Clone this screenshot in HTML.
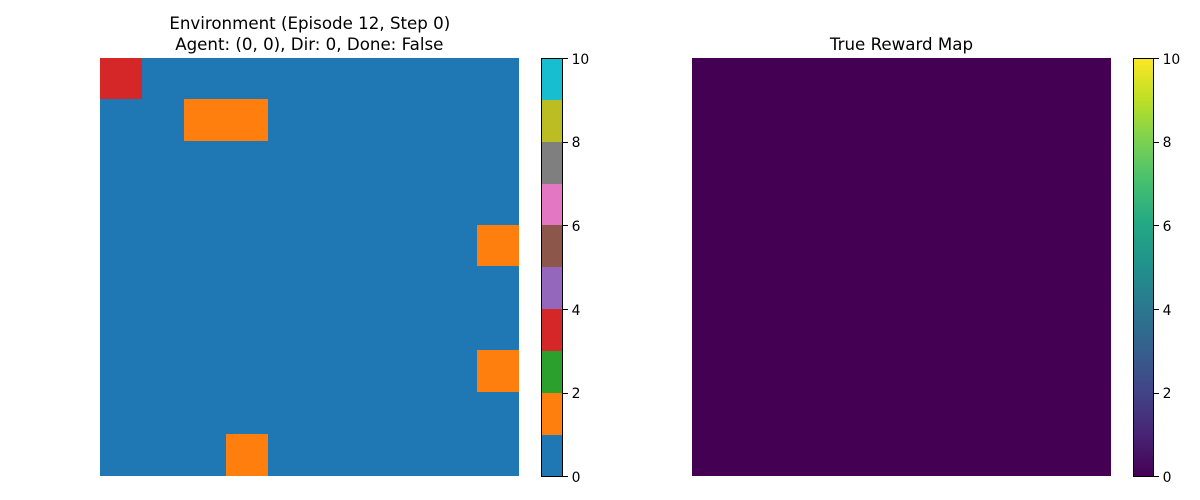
<!DOCTYPE html>
<html lang="en">
<head>
<meta charset="utf-8">
<title>Environment and True Reward Map</title>
<style>
html,body{margin:0;padding:0;background:#fff;width:1200px;height:500px;overflow:hidden}
svg{display:block}
text{font-family:"DejaVu Sans","Liberation Sans",sans-serif;fill:#000}
</style>
</head>
<body>
<svg id="chart" xmlns="http://www.w3.org/2000/svg" width="1200" height="500" viewBox="0 0 1200 500">
  <defs>
    <linearGradient id="viridis" x1="0" y1="1" x2="0" y2="0"></linearGradient>
  </defs>
  <rect width="1200" height="500" fill="#fff"/>
  <text x="309.8" y="29" font-size="16.67" text-anchor="middle">Environment (Episode 12, Step 0)</text>
  <text x="309.3" y="50" font-size="16.67" text-anchor="middle">Agent: (0, 0), Dir: 0, Done: False</text>
  <text x="901.5" y="50" font-size="16.67" text-anchor="middle">True Reward Map</text>
  <g id="env-heatmap"></g>
  <g id="reward-heatmap"></g>
  <g id="env-colorbar"></g>
  <g id="reward-colorbar"></g>
</svg>
<script>
const envGrid = [
  [3,0,0,0,0,0,0,0,0,0],
  [0,0,1,1,0,0,0,0,0,0],
  [0,0,0,0,0,0,0,0,0,0],
  [0,0,0,0,0,0,0,0,0,0],
  [0,0,0,0,0,0,0,0,0,1],
  [0,0,0,0,0,0,0,0,0,0],
  [0,0,0,0,0,0,0,0,0,0],
  [0,0,0,0,0,0,0,0,0,1],
  [0,0,0,0,0,0,0,0,0,0],
  [0,0,0,1,0,0,0,0,0,0]
];
const rewardGrid = [
  [0,0,0,0,0,0,0,0,0,0],
  [0,0,0,0,0,0,0,0,0,0],
  [0,0,0,0,0,0,0,0,0,0],
  [0,0,0,0,0,0,0,0,0,0],
  [0,0,0,0,0,0,0,0,0,0],
  [0,0,0,0,0,0,0,0,0,0],
  [0,0,0,0,0,0,0,0,0,0],
  [0,0,0,0,0,0,0,0,0,0],
  [0,0,0,0,0,0,0,0,0,0],
  [0,0,0,0,0,0,0,0,0,0]
];
const colorbarTicks = [0,2,4,6,8,10];
const tab10Colors = ["#1f77b4","#ff7f0e","#2ca02c","#d62728","#9467bd","#8c564b","#e377c2","#7f7f7f","#bcbd22","#17becf"];
const viridisColors = ["#440154","#482475","#414487","#355f8d","#2a788e","#21918c","#22a884","#44bf70","#7ad151","#bddf26","#fde725"];
const valueMin = 0;
const valueMax = 10;

const NS = "http://www.w3.org/2000/svg";
const heatTop = 57.49, heatBottom = 475.5, heatClipTop = 58;
const barTop = 58.5, barBottom = 476.9;

function hexToRgb(h){
  return [1,3,5].map(function(i){return parseInt(h.substr(i,2),16);});
}
function tab10(v){
  const t = (v - valueMin) / (valueMax - valueMin);
  const i = Math.min(tab10Colors.length - 1, Math.max(0, Math.floor(t * tab10Colors.length)));
  return tab10Colors[i];
}
function viridis(v){
  const t = Math.min(1, Math.max(0, (v - valueMin) / (valueMax - valueMin))) * (viridisColors.length - 1);
  const i = Math.min(viridisColors.length - 2, Math.floor(t));
  const a = hexToRgb(viridisColors[i]), b = hexToRgb(viridisColors[i + 1]);
  const f = t - i;
  return "rgb(" + a.map(function(c,k){return Math.round(c + (b[k] - c) * f);}).join(",") + ")";
}
function colorbarExactY(v){
  return barBottom - (v - valueMin) / (valueMax - valueMin) * (barBottom - barTop);
}
function colorbarY(v){
  return Math.floor(colorbarExactY(v));
}
function drawHeatmap(groupId, grid, left, right, colorFn){
  const g = document.getElementById(groupId);
  const rows = grid.length, cols = grid[0].length;
  const colX = function(c){return Math.round(left + c * (right - left) / cols);};
  const rowY = function(r){return Math.max(heatClipTop, Math.round(heatTop + r * (heatBottom - heatTop) / rows));};
  grid.forEach(function(row, r){
    row.forEach(function(val, c){
      const cell = document.createElementNS(NS, "rect");
      cell.setAttribute("x", colX(c));
      cell.setAttribute("y", rowY(r));
      cell.setAttribute("width", colX(c + 1) - colX(c));
      cell.setAttribute("height", rowY(r + 1) - rowY(r));
      cell.setAttribute("fill", colorFn(val));
      cell.setAttribute("shape-rendering", "crispEdges");
      
      
      g.appendChild(cell);
    });
  });
}
function drawColorbarFrame(g, left, right){
  const yTop = colorbarY(valueMax), yBottom = colorbarY(valueMin);
  const outline = document.createElementNS(NS, "rect");
  outline.setAttribute("x", left + 0.5);
  outline.setAttribute("y", yTop + 0.5);
  outline.setAttribute("width", right - left);
  outline.setAttribute("height", yBottom - yTop);
  outline.setAttribute("fill", "none");
  outline.setAttribute("stroke", "#000");
  outline.setAttribute("stroke-width", "1");
  outline.setAttribute("shape-rendering", "crispEdges");
  
  
  g.appendChild(outline);
  colorbarTicks.forEach(function(t){
    const y = colorbarY(t);
    const tick = document.createElementNS(NS, "line");
    tick.setAttribute("x1", right + 1);
    tick.setAttribute("x2", right + 6);
    tick.setAttribute("y1", y + 0.5);
    tick.setAttribute("y2", y + 0.5);
    tick.setAttribute("stroke", "#000");
    tick.setAttribute("stroke-width", "1");
    tick.setAttribute("shape-rendering", "crispEdges");
    
    
    g.appendChild(tick);
    const label = document.createElementNS(NS, "text");
    label.setAttribute("x", right + 9.6);
    label.setAttribute("y", Math.round(colorbarExactY(t) + 5.1));
    label.setAttribute("font-size", "13.89");
    label.textContent = String(t);
    
    
    g.appendChild(label);
  });
}
function drawDiscreteColorbar(groupId, left, right){
  const g = document.getElementById(groupId);
  const n = tab10Colors.length;
  const step = (valueMax - valueMin) / n;
  tab10Colors.forEach(function(col, i){
    const top = colorbarY(valueMin + (i + 1) * step);
    const bottom = colorbarY(valueMin + i * step);
    const seg = document.createElementNS(NS, "rect");
    seg.setAttribute("x", left);
    seg.setAttribute("y", top);
    seg.setAttribute("width", right - left);
    seg.setAttribute("height", bottom - top);
    seg.setAttribute("fill", col);
    seg.setAttribute("shape-rendering", "crispEdges");
    
    
    g.appendChild(seg);
  });
  drawColorbarFrame(g, left, right);
}
function drawGradientColorbar(groupId, left, right){
  const g = document.getElementById(groupId);
  const grad = document.getElementById("viridis");
  viridisColors.forEach(function(col, i){
    const stop = document.createElementNS(NS, "stop");
    stop.setAttribute("offset", i / (viridisColors.length - 1));
    stop.setAttribute("stop-color", col);
    grad.appendChild(stop);
  });
  const yTop = colorbarY(valueMax), yBottom = colorbarY(valueMin);
  const ramp = document.createElementNS(NS, "rect");
  ramp.setAttribute("x", left);
  ramp.setAttribute("y", yTop);
  ramp.setAttribute("width", right - left);
  ramp.setAttribute("height", yBottom - yTop);
  ramp.setAttribute("fill", "url(#viridis)");
  
  
  g.appendChild(ramp);
  drawColorbarFrame(g, left, right);
}
drawHeatmap("env-heatmap", envGrid, 100, 519, tab10);
drawHeatmap("reward-heatmap", rewardGrid, 692, 1111, viridis);
drawDiscreteColorbar("env-colorbar", 541, 562);
drawGradientColorbar("reward-colorbar", 1133, 1153);
</script>
</body>
</html>
